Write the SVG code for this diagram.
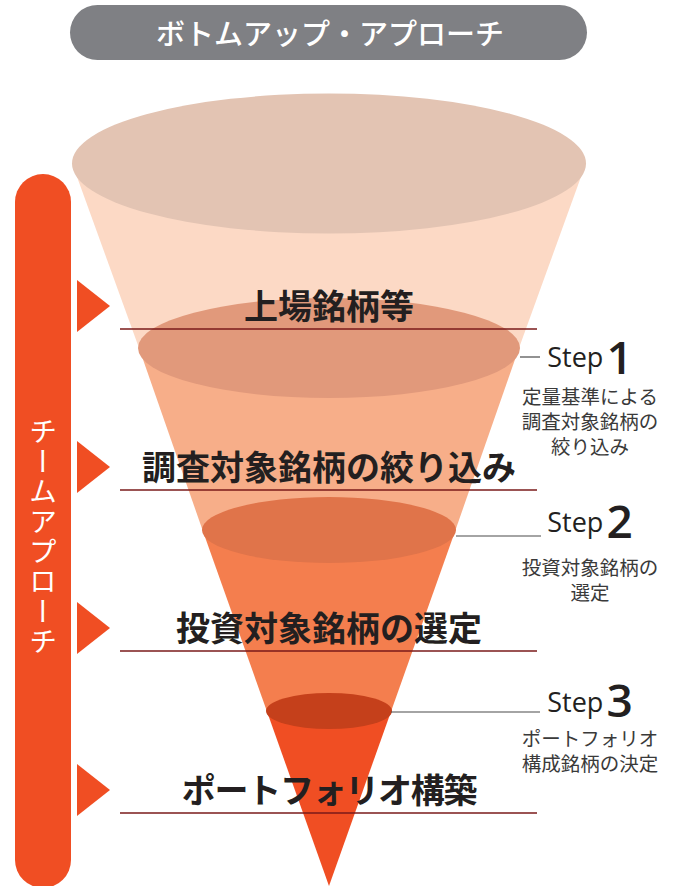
<svg xmlns="http://www.w3.org/2000/svg" width="681" height="886" viewBox="0 0 681 886">
<style>
.jp{font-family:"Noto Sans CJK JP","Noto Sans",sans-serif}
.lbl{font-size:34px;font-weight:bold;fill:#231F20;text-anchor:middle}
.sub{font-size:19.5px;fill:#3A3A3A;text-anchor:middle}
.step{font-family:"Open Sans","Liberation Sans",sans-serif;font-size:27px;font-weight:500;fill:#231F20;text-anchor:middle}
.num{font-size:46px;font-weight:600}
.hl{stroke:#7A1A1A;stroke-width:1.4}
.sl{stroke:#4A4A4A;stroke-width:1.2}
.tri{fill:#F04E23}
</style>
<rect width="681" height="886" fill="#FFFFFF"/>
<g id="header">
<rect x="70" y="5" width="517" height="55" rx="27.5" fill="#7F8084"/>
<text class="jp" x="330" y="45" font-size="29" font-weight="500" fill="#FFFFFF" text-anchor="middle">ボトムアップ・アプローチ</text>
</g>
<g id="team">
<rect x="15" y="174" width="56" height="714" rx="28" fill="#F04E23"/>
<text class="jp" x="43" y="417" font-size="28" fill="#FFFFFF" letter-spacing="2" style="writing-mode:vertical-rl">チームアプローチ</text>
</g>
<g id="funnel">
<polygon points="72,163 586,163 519,348 139,348" fill="#FCD9C5"/>
<polygon points="139,348 519,348 455.5,530 202.5,530" fill="#F7AE89"/>
<polygon points="202.5,530 455.5,530 391.2,711 266.8,711" fill="#F47E4E"/>
<polygon points="266.8,711 391.2,711 329,886" fill="#F04E23"/>
<ellipse cx="329" cy="163.5" rx="257" ry="70" fill="#E3C4B3"/>
<ellipse cx="329" cy="348" rx="191" ry="50" fill="#E1997B"/>
<ellipse cx="329" cy="530" rx="127" ry="33" fill="#E0744A"/>
<ellipse cx="329" cy="711" rx="63" ry="18" fill="#C5401B"/>
</g>
<g id="connectors">
<line class="hl" x1="120" y1="329" x2="537" y2="329"/>
<line class="hl" x1="120" y1="490" x2="537" y2="490"/>
<line class="hl" x1="120" y1="651" x2="537" y2="651"/>
<line class="hl" x1="120" y1="813" x2="537" y2="813"/>
<line class="sl" x1="520" y1="357" x2="540" y2="357"/>
<line class="sl" x1="456" y1="536" x2="541" y2="536"/>
<line class="sl" x1="391" y1="712" x2="540" y2="712"/>
<polygon class="tri" points="77,280 110,306 77,332"/>
<polygon class="tri" points="77,441 110,467 77,493"/>
<polygon class="tri" points="77,602 110,628 77,654"/>
<polygon class="tri" points="77,764 110,790 77,816"/>
</g>
<g id="stage1"><text class="jp lbl" x="329" y="319">上場銘柄等</text></g>
<g id="stage2"><text class="jp lbl" x="329" y="480">調査対象銘柄の絞り込み</text></g>
<g id="stage3"><text class="jp lbl" x="329" y="641">投資対象銘柄の選定</text></g>
<g id="stage4"><text class="jp lbl" x="329" y="803" letter-spacing="-1.3">ポートフォリオ構築</text></g>
<g id="step1">
<text class="step" x="590" y="367">Step<tspan class="num" dx="3" dy="7">1</tspan></text>
<text class="jp sub" x="590" y="404">定量基準による</text>
<text class="jp sub" x="590" y="429">調査対象銘柄の</text>
<text class="jp sub" x="590" y="454">絞り込み</text>
</g>
<g id="step2">
<text class="step" x="590" y="532">Step<tspan class="num" dx="3" dy="6">2</tspan></text>
<text class="jp sub" x="590" y="575">投資対象銘柄の</text>
<text class="jp sub" x="590" y="600">選定</text>
</g>
<g id="step3">
<text class="step" x="590" y="712">Step<tspan class="num" dx="3" dy="5">3</tspan></text>
<text class="jp sub" x="590" y="746">ポートフォリオ</text>
<text class="jp sub" x="590" y="771">構成銘柄の決定</text>
</g>
</svg>
